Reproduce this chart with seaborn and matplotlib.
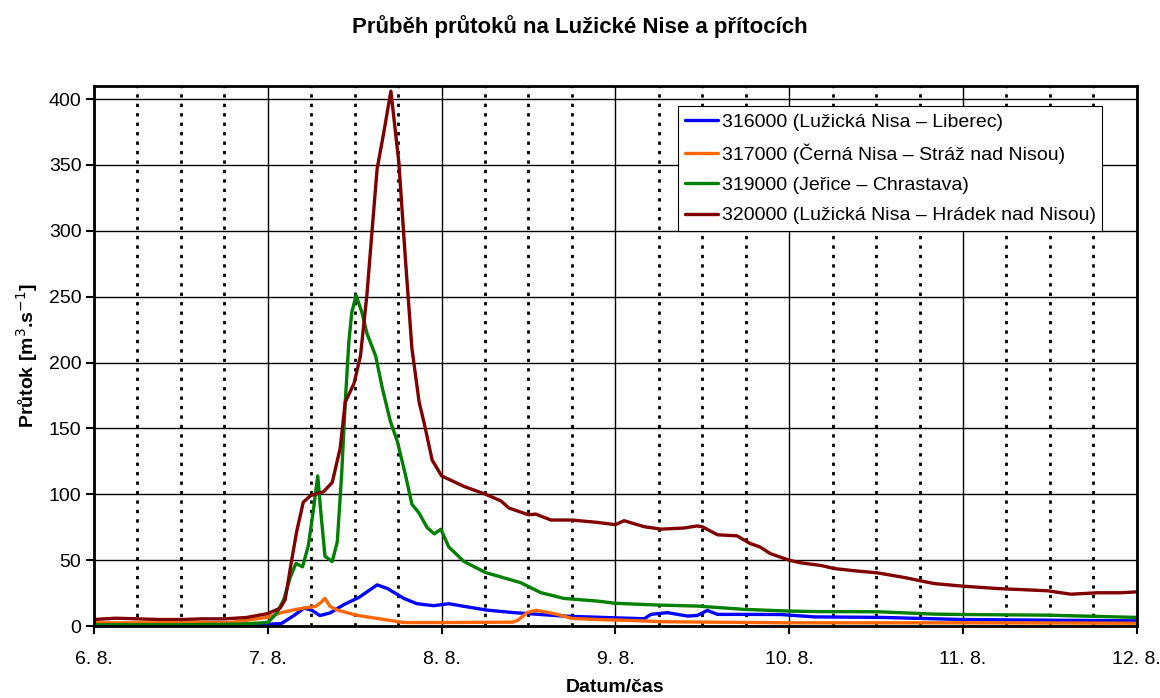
import matplotlib
matplotlib.use("Agg")
import matplotlib.pyplot as plt
import seaborn as sns
import pandas as pd

# hours since 6. 8. 00:00 and flow [m3/s]
red_h = [0, 3, 6, 9, 12, 15, 18, 21, 24, 25.7, 26.4, 27.3, 28, 28.9, 29.9, 31.7, 32.9, 34, 34.7,
         35.9, 36.8, 37.7, 38.4, 39.1, 40, 41, 42.1, 43, 43.9, 44.9, 45.6, 46.7, 48, 51.1, 54.1,
         56.2, 57.3, 60, 61, 63.1, 66, 69.5, 72, 73.2, 76, 78.3, 81.4, 83.3, 84, 86.1, 88.8, 90.6,
         92, 93.4, 96, 97.6, 100.4, 102.2, 105, 108.2, 111.9, 114.2, 116, 120, 124.8, 131.7,
         134.9, 138.6, 141.8, 144]
red_q = [5, 6, 5.5, 5, 5, 5.5, 5.5, 6.5, 9.5, 13.6, 20, 50, 72, 94, 99, 102, 109, 135, 170,
         184, 205, 252, 300, 347, 374, 406, 352, 279, 211, 170, 154, 126, 114, 106, 100,
         95, 89.6, 84.5, 85, 80.5, 80.5, 78.7, 77, 80, 75.4, 73.6, 74.4, 76, 75.4, 69.3, 68.5, 62.7,
         60, 55, 50, 48, 46, 43.7, 42, 40.4, 36.9, 34.3, 32.3, 30.3, 28.5, 26.8,
         24.2, 25.3, 25.3, 26]

green_h = [0, 12, 20, 24, 25.2, 26.2, 27.1, 27.9, 28.8, 29.6, 30.3, 30.9, 31.3, 31.9, 32.9, 33.6,
           34.2, 34.7, 35.2, 35.6, 36.2, 37, 37.7, 38.9, 39.8, 40.9, 41.9, 43, 43.9, 44.9, 46, 47,
           47.9, 49, 51.1, 54.1, 58.9, 61.7, 64.9, 69.5, 72, 77.8, 83.3, 89.8, 96, 100, 108.2,
           116, 120, 131.7, 144]
green_q = [1, 1, 1.5, 2.7, 9.5, 20, 37, 47.6, 45, 61, 88, 114, 88, 53, 49, 64,
           115, 170, 216, 238, 251, 238, 222, 205, 181, 156, 140, 115, 92.5, 85.7, 74.8, 70,
           73.5, 60, 49, 40.6, 33, 25.4, 21, 19, 17.3, 16, 15.2, 12.7, 11.4, 11, 10.9,
           9.1, 8.8, 8.3, 6.6]

blue_h = [0, 12, 24, 25.9, 27.6, 29, 30.1, 31.2, 32.6, 34.5, 36.6, 39.1, 40.5, 42.8, 44.6, 46.9,
          49, 51.1, 54.2, 58, 64.9, 71.8, 76, 76.9, 79.2, 82, 83.3, 84.7, 86.1, 88.8, 94.8, 99.5,
          108.7, 120, 131.7, 144]
blue_q = [0.8, 1, 1.4, 2, 8, 13.6, 12, 8, 10, 16.3, 21.8, 31.3, 28.6, 21, 17, 15.5,
          17, 15, 12.2, 10.2, 7.6, 6.3, 5.6, 8.9, 10.2, 7.6, 8.1, 11.9, 8.9, 8.9, 8.8, 7,
          6.6, 5, 4.5, 4]

orange_h = [0, 12, 18.8, 24, 25.7, 28, 30.6, 31.3, 31.9, 32.6, 33.6, 36.3, 39.6, 42.8, 48, 57.8,
            58.5, 59.8, 61, 62.1, 64, 66, 69.5, 74, 78.7, 96, 120, 144]
orange_q = [2.5, 2.5, 2.7, 6.8, 10, 12.8, 15, 17.7, 21, 15, 12.2, 8.2, 5.4, 2.7, 2.7, 3,
            4.3, 10.2, 12, 11, 8.9, 5.8, 5, 4.3, 3.3, 2.5, 2.5, 2.2]

stations = ["316000 (Lužická Nisa – Liberec)",
            "317000 (Černá Nisa – Stráž nad Nisou)",
            "319000 (Jeřice – Chrastava)",
            "320000 (Lužická Nisa – Hrádek nad Nisou)"]
colors = ["#0000ff", "#ff6600", "#008000", "#800000"]
day_labels = ["6. 8.", "7. 8.", "8. 8.", "9. 8.", "10. 8.", "11. 8.", "12. 8."]

frames = []
for name, h, q in zip(stations, [blue_h, orange_h, green_h, red_h],
                      [blue_q, orange_q, green_q, red_q]):
    frames.append(pd.DataFrame({"hodiny": h, "prutok": q, "stanice": name}))
df = pd.concat(frames, ignore_index=True)

sns.set_style("white")
plt.rcParams["font.family"] = ["Liberation Sans", "DejaVu Sans"]
plt.rcParams.update({"text.color": "black", "axes.labelcolor": "black",
                     "xtick.color": "black", "ytick.color": "black"})

fig = plt.figure(figsize=(11.6, 6.98), dpi=100)
ax = fig.add_axes([0.081, 0.103, 0.899, 0.774])

sns.lineplot(data=df, x="hodiny", y="prutok", hue="stanice", hue_order=stations,
             palette=colors, estimator=None, sort=False, linewidth=2.4, ax=ax)

ax.set_xlim(0, 144)
ax.set_ylim(0, 410)
ax.set_xticks(range(0, 145, 24))
ax.set_xticklabels(day_labels)
ax.set_xticks(range(6, 144, 6), minor=True)
ax.set_yticks(range(0, 401, 50))
ax.tick_params(axis="y", labelsize=14, length=6, width=1.5, direction="out", left=True, pad=3)
ax.tick_params(axis="x", which="major", labelsize=14, length=6, width=1.5, direction="out",
               bottom=True, pad=12)
ax.tick_params(axis="x", which="minor", length=0)

ax.grid(axis="y", color="black", linewidth=1)
ax.grid(axis="x", which="major", color="black", linewidth=1)
ax.grid(axis="x", which="minor", color="black", linewidth=2, linestyle=(0, (1.2, 2.2)))
ax.set_axisbelow(True)

for side in ["left", "bottom", "top", "right"]:
    ax.spines[side].set_color("black")
    ax.spines[side].set_linewidth(2)

ax.set_xlabel("Datum/čas", fontsize=14, fontweight="bold", labelpad=8)
ax.set_ylabel("Průtok [m$^3$.s$^{-1}$]", fontsize=14, fontweight="bold", labelpad=6)
fig.suptitle("Průběh průtoků na Lužické Nise a přítocích", fontsize=16,
             fontweight="bold", y=0.978)

leg = ax.legend(loc="upper right", bbox_to_anchor=(0.967, 0.962), fontsize=14,
                frameon=True, fancybox=False, framealpha=1, edgecolor="black",
                handlelength=1.7, handletextpad=0.2, borderpad=0.35, labelspacing=0.65,
                borderaxespad=0)
leg.get_frame().set_linewidth(0.8)

fig.savefig("out.png", dpi=100)
